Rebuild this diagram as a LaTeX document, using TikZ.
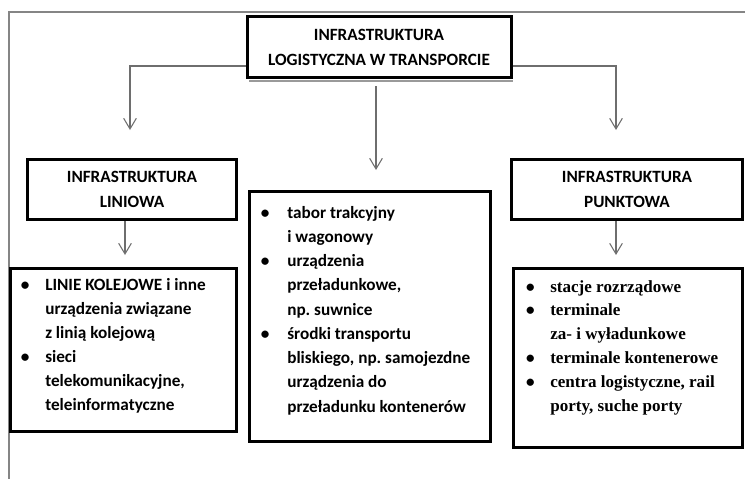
\documentclass[tikz,border=0pt]{standalone}
\usepackage{fontspec}
\setmainfont{Carlito}
\newfontfamily\serifb{Liberation Serif}
\usetikzlibrary{arrows.meta,calc}
\definecolor{conncol}{HTML}{6E6E6E}
\definecolor{framecol}{HTML}{858585}
\definecolor{shadowcol}{HTML}{9A9A9A}
\newcommand\ibul[1]{\makebox[#1][c]{\rmfamily\bfseries\textbullet}}
\newcommand\icont[1]{\hspace*{#1}}
\frenchspacing
\begin{document}
\begin{tikzpicture}[x=0.75pt,y=-0.75pt,
  box/.style={draw=black, line width=2.25pt, inner sep=0pt, align=center,
    font=\bfseries\fontsize{12.9}{18.75}\selectfont},
  listtext/.style={anchor=base west, inner sep=0pt, font=\bfseries},
  conn/.style={draw=conncol, line width=0.8pt, -{Straight Barb[length=8pt,width=9.5pt]}}]
\useasboundingbox (0,0) rectangle (745,479);
% frame
\draw[framecol, line width=1pt] (745,12) -- (9,12) -- (9,479);
% title boxes
\draw[shadowcol, line width=1.5pt] (249,81) -- (513,81);
\node[box, minimum width=198pt, minimum height=46pt] (top) at (379,47)
  {INFRASTRUKTURA\\LOGISTYCZNA W TRANSPORCIE};
\node[box, minimum width=157pt, minimum height=45pt] (lin) at (132,189.5)
  {INFRASTRUKTURA\\LINIOWA};
\node[box, minimum width=173pt, minimum height=45pt] (pun) at (627,189.5)
  {INFRASTRUKTURA\\PUNKTOWA};
% list boxes
\node[box, minimum width=169.5pt, minimum height=122.5pt] (linlist) at (123.5,350) {};
\node[box, minimum width=180.5pt, minimum height=187.5pt] (mid) at (370,316.5) {};
\node[box, minimum width=171.5pt, minimum height=134.5pt] (punlist) at (628,358) {};
% list texts
\node[listtext] (linlisttxt) at (5,290) {\parbox[t]{180pt}{\frenchspacing\fontsize{12.9}{18}\selectfont
  \ibul{30pt}LINIE KOLEJOWE i inne\\
  \icont{30pt}urządzenia związane\\
  \icont{30pt}z linią kolejową\\
  \ibul{30pt}sieci\\
  \icont{30pt}telekomunikacyjne,\\
  \icont{30pt}teleinformatyczne}};
\node[listtext] (midtxt) at (243,218) {\parbox[t]{185pt}{\frenchspacing\fontsize{12.9}{18.2}\selectfont
  \ibul{33pt}tabor trakcyjny\\
  \icont{33pt}i wagonowy\\
  \ibul{33pt}urządzenia\\
  \icont{33pt}przeładunkowe,\\
  \icont{33pt}np. suwnice\\
  \ibul{33pt}środki transportu\\
  \icont{33pt}bliskiego, np. samojezdne\\
  \icont{33pt}urządzenia do\\
  \icont{33pt}przeładunku kontenerów}};
\node[listtext] (puntxt) at (510,292) {\parbox[t]{180pt}{\frenchspacing\serifb\bfseries\fontsize{12.8}{17.85}\selectfont
  \ibul{30pt}stacje rozrządowe\\
  \ibul{30pt}terminale\\
  \icont{30pt}za- i wyładunkowe\\
  \ibul{30pt}terminale kontenerowe\\
  \ibul{30pt}centra logistyczne, rail\\
  \icont{30pt}porty, suche porty}};
% arrow end points
\coordinate (aL) at (130,130);
\coordinate (aR) at (616,130);
\coordinate (aM) at (376,170);
\coordinate (aLi) at (125,255);
\coordinate (aPu) at (616,255);
% connectors
\draw[conn] ($(top.west)+(0,19)$) -| (aL);
\draw[conn] ($(top.east)+(0,19)$) -| (aR);
\draw[conn] (aM |- 0,86) -- (aM);
\draw[conn] (lin.south -| aLi) -- (aLi);
\draw[conn] (pun.south -| aPu) -- (aPu);
\end{tikzpicture}
\end{document}
